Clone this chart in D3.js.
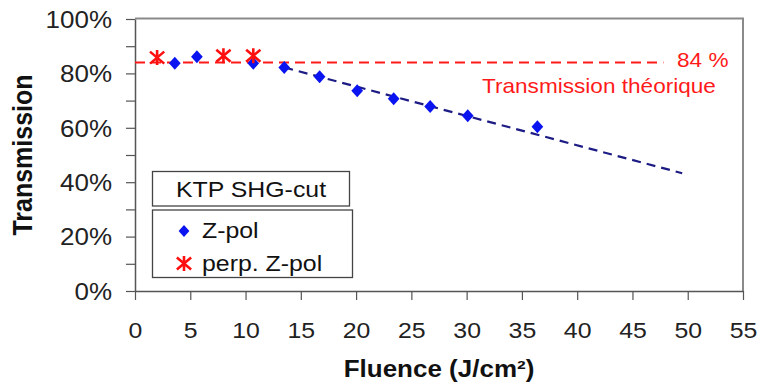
<!DOCTYPE html>
<html>
<head>
<meta charset="utf-8">
<script src="https://cdn.jsdelivr.net/npm/d3@7"></script>
<style>
	body { margin: 0; background: #fff; }
	svg { display: block; font-family: 'Liberation Sans', Arial, sans-serif; }
</style>
</head>
<body>
<svg id="chart"></svg>
<script>
// Z-pol measurements (fluence J/cm², transmission %)
const zPolFluence = [3.6, 5.6, 10.7, 13.5, 16.7, 20.1, 23.4, 26.7, 30.1, 36.4];
const zPolTrans = [83.7, 86.1, 83.7, 82.2, 78.8, 73.6, 70.7, 67.8, 64.4, 60.4];

// perp. Z-pol measurements
const perpFluence = [2.0, 8.0, 10.7];
const perpTrans = [85.8, 86.5, 86.5];

// dashed trend line on Z-pol and theoretical transmission
const trendFluence = [13.5, 49.5];
const trendTrans = [82.2, 43.3];
const theoFluence = [0, 47.8];
const theoTrans = [84, 84];

const xTicks = [0, 5, 10, 15, 20, 25, 30, 35, 40, 45, 50, 55];
const yTicks = [0, 10, 20, 30, 40, 50, 60, 70, 80, 90, 100];
const yLabels = [0, 20, 40, 60, 80, 100];

const legendTitle = 'KTP SHG-cut';
const legendNames = ['Z-pol', 'perp. Z-pol'];

const config = {
	width: 759,
	height: 382,
	left: 135,
	right: 743,
	top: 19,
	bottom: 291,
	stretch: 1.13, // the original picture is a bit wider than tall
};

const svg = d3
	.select('#chart')
	.attr('width', config.width)
	.attr('height', config.height);

const xScale = d3.scaleLinear().domain([0, 55]).range([config.left, config.right]);
const yScale = d3.scaleLinear().domain([0, 100]).range([config.bottom, config.top]);

// put a text at x,y with the horizontal stretch
function addText(x, y, str, size) {
	return svg.append('text')
		.attr('transform', `translate(${x},${y}) scale(${config.stretch},1)`)
		.attr('font-size', size + 'px')
		.text(str);
}

// plot frame (top + right in grey)
svg.append('path')
	.attr('d', `M${config.left},${config.top - 0.5}H${config.right}V${config.bottom}`)
	.attr('fill', 'none')
	.attr('stroke', '#8a8a8a')
	.attr('stroke-width', 2);

// axes
const xAxis = d3.axisBottom(xScale).tickValues(xTicks).tickSize(9).tickSizeOuter(0)
	.tickFormat(d3.format('d'));
const yAxis = d3.axisLeft(yScale).tickValues(yTicks).tickSize(9).tickSizeOuter(0)
	.tickFormat((d) => (yLabels.includes(d) ? d + '%' : ''));

const xAxisG = svg.append('g')
	.attr('transform', `translate(0,${config.bottom})`)
	.call(xAxis);
xAxisG.selectAll('text')
	.attr('y', 0)
	.attr('dy', 0)
	.attr('transform', `translate(0,47) scale(${config.stretch},1)`)
	.attr('font-size', '22px')
	.attr('fill', '#222');

const yAxisG = svg.append('g')
	.attr('transform', `translate(${config.left},0)`)
	.call(yAxis);
yAxisG.selectAll('text')
	.attr('x', 0)
	.attr('dy', '0.36em')
	.attr('transform', `translate(-23,0) scale(${config.stretch},1)`)
	.attr('font-size', '23px')
	.attr('fill', '#222');

[xAxisG, yAxisG].forEach((g) => {
	g.select('.domain').attr('stroke', '#555').attr('stroke-width', 1.5);
	g.selectAll('.tick line').attr('stroke', '#555').attr('stroke-width', 1.2);
});

// axis titles
addText((config.left + config.right) / 2, 377, 'Fluence (J/cm²)', 23)
	.attr('text-anchor', 'middle')
	.attr('font-weight', 'bold')
	.attr('fill', '#111');

svg.append('text')
	.attr('transform', `translate(32,${(config.top + config.bottom) / 2}) rotate(-90) scale(1,${config.stretch})`)
	.attr('text-anchor', 'middle')
	.attr('font-size', '25px')
	.attr('font-weight', 'bold')
	.attr('fill', '#111')
	.text('Transmission');

// dashed lines
const line = d3.line().x((d) => xScale(d[0])).y((d) => yScale(d[1]));

svg.append('path')
	.datum(d3.zip(theoFluence, theoTrans))
	.attr('d', line)
	.attr('fill', 'none')
	.attr('stroke', '#ff1a1a')
	.attr('stroke-width', 2.2)
	.attr('stroke-dasharray', '10,6');

svg.append('path')
	.datum(d3.zip(trendFluence, trendTrans))
	.attr('d', line)
	.attr('fill', 'none')
	.attr('stroke', '#1c1c84')
	.attr('stroke-width', 2.2)
	.attr('stroke-dasharray', '9,6');

// marker helpers
function diamond(g, r) {
	g.append('path')
		.attr('d', `M0,${-r}L${r * 0.9},0L0,${r}L${-r * 0.9},0Z`)
		.attr('fill', '#0a14f0');
}

function asterisk(g, r) {
	const a = r * 0.95;
	g.append('path')
		.attr('d', `M0,${-r}V${r}M${-a},${-r * 0.8}L${a},${r * 0.8}M${-a},${r * 0.8}L${a},${-r * 0.8}`)
		.attr('stroke', '#ff1010')
		.attr('stroke-width', 2.6)
		.attr('fill', 'none');
}

svg.selectAll('.z-pol')
	.data(d3.zip(zPolFluence, zPolTrans))
	.join('g')
	.attr('class', 'z-pol')
	.attr('transform', (d) => `translate(${xScale(d[0])},${yScale(d[1])})`)
	.each(function () { diamond(d3.select(this), 6.5); });

svg.selectAll('.perp')
	.data(d3.zip(perpFluence, perpTrans))
	.join('g')
	.attr('class', 'perp')
	.attr('transform', (d) => `translate(${xScale(d[0])},${yScale(d[1])})`)
	.each(function () { asterisk(d3.select(this), 7.5); });

// red annotations
addText(677, 67, '84 %', 20).attr('fill', '#ff1a1a');
addText(482, 93, 'Transmission théorique', 20).attr('fill', '#ff1a1a');

// legend
svg.append('rect')
	.attr('x', 152.5).attr('y', 171.5)
	.attr('width', 197).attr('height', 34.5)
	.attr('fill', '#fff')
	.attr('stroke', '#444').attr('stroke-width', 1.3);

addText(251, 197, legendTitle, 22)
	.attr('text-anchor', 'middle')
	.attr('fill', '#111');

svg.append('rect')
	.attr('x', 152.5).attr('y', 210)
	.attr('width', 200).attr('height', 67.5)
	.attr('fill', '#fff')
	.attr('stroke', '#444').attr('stroke-width', 1.3);

legendNames.forEach((name, i) => {
	const row = svg.append('g')
		.attr('transform', `translate(184,${231 + i * 32.5})`);
	if (i === 0) diamond(row, 6);
	else asterisk(row, 7.5);
	addText(202, 238 + i * 32.5, name, 22).attr('fill', '#111');
});
</script>
</body>
</html>
